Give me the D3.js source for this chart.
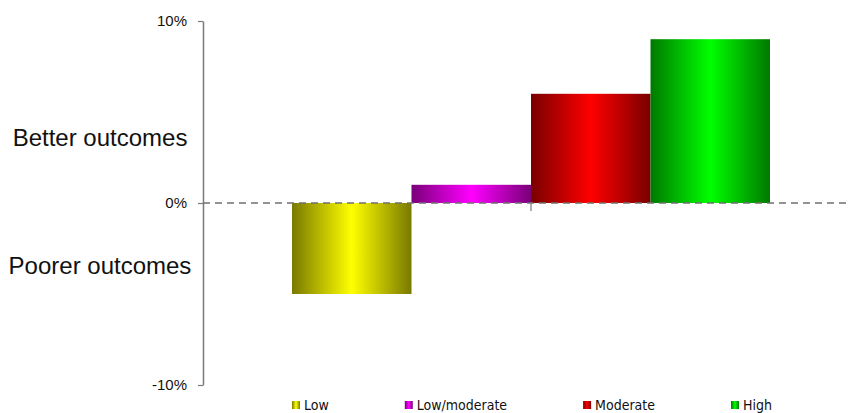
<!DOCTYPE html>
<html>
<head>
<meta charset="utf-8">
<script src="https://cdn.jsdelivr.net/npm/d3@7"></script>
<style>
  html, body { margin: 0; padding: 0; background: #fff; }
  svg { display: block; }
</style>
</head>
<body>
<svg id="chart" width="850" height="413"></svg>
<script>
// Change in outcomes by level (percent)
const categories = ["Low", "Low/moderate", "Moderate", "High"];
const values = [-5, 1, 6, 9];
const yTicks = [-10, 0, 10];
const barColors = ["#ffff00", "#ff00ff", "#ff0000", "#00ff00"];
const sideLabels = ["Better outcomes", "Poorer outcomes"];

const svg = d3.select("#chart");
const axisX = 203;

const y = d3.scaleLinear().domain([-10, 10]).range([385, 21]);
const x = d3.scaleBand().domain(categories).range([292, 770]).padding(0);
const color = d3.scaleOrdinal().domain(categories).range(barColors);

// Horizontal gradients: dark edges, bright centre
const defs = svg.append("defs");
categories.forEach((c, i) => {
  const base = d3.color(color(c));
  const dark = base.darker(2.1);
  const g = defs.append("linearGradient")
    .attr("id", "grad" + i)
    .attr("x1", "0%").attr("x2", "100%").attr("y1", "0%").attr("y2", "0%");
  g.append("stop").attr("offset", "0%").attr("stop-color", dark.formatHex());
  g.append("stop").attr("offset", "50%").attr("stop-color", base.formatHex());
  g.append("stop").attr("offset", "100%").attr("stop-color", dark.formatHex());
});

// Bars
svg.append("g").selectAll("rect")
  .data(categories)
  .join("rect")
  .attr("x", d => x(d))
  .attr("width", x.bandwidth())
  .attr("y", (d, i) => y(Math.max(0, values[i])))
  .attr("height", (d, i) => Math.abs(y(values[i]) - y(0)))
  .attr("fill", (d, i) => `url(#grad${i})`);

// Y axis
const yAxis = svg.append("g")
  .attr("transform", `translate(${axisX},0)`)
  .call(d3.axisLeft(y).tickValues(yTicks).tickSize(5).tickSizeOuter(0)
    .tickFormat(d => d + "%"));
yAxis.select(".domain").attr("stroke", "#7a7a7a").attr("stroke-width", 1.5);
yAxis.selectAll(".tick line").attr("stroke", "#7a7a7a").attr("stroke-width", 1.2);
yAxis.selectAll(".tick text")
  .attr("x", -16)
  .attr("fill", "#111")
  .style("font-family", "'Liberation Sans', Arial, sans-serif")
  .style("font-size", "15px");

// Dashed zero baseline
svg.append("line")
  .attr("x1", axisX).attr("x2", 850)
  .attr("y1", y(0)).attr("y2", y(0))
  .attr("stroke", "#707070")
  .attr("stroke-width", 1.5)
  .attr("stroke-dasharray", "7,5");

// Category tick on the baseline
const midX = (x.range()[0] + x.range()[1]) / 2;
svg.append("line")
  .attr("x1", midX).attr("x2", midX)
  .attr("y1", y(0) - 1).attr("y2", y(0) + 8)
  .attr("stroke", "#7a7a7a")
  .attr("stroke-width", 1.2);

// Side labels
svg.append("g").selectAll("text")
  .data(sideLabels)
  .join("text")
  .attr("x", 100)
  .attr("y", (d, i) => i === 0 ? 146 : 274)
  .attr("text-anchor", "middle")
  .attr("fill", "#111")
  .style("font-family", "'Liberation Sans', Arial, sans-serif")
  .style("font-size", "24px")
  .text(d => d);

// Legend
const legend = svg.append("g");
let lx = 292;
categories.forEach((c, i) => {
  legend.append("rect")
    .attr("x", lx).attr("y", 401)
    .attr("width", 8).attr("height", 8)
    .attr("fill", `url(#grad${i})`);
  const t = legend.append("text")
    .attr("x", lx + 12).attr("y", 410)
    .attr("fill", "#111")
    .style("font-family", "'DejaVu Sans Condensed', 'DejaVu Sans', sans-serif")
    .style("font-stretch", "condensed")
    .style("font-size", "14px")
    .text(c);
  lx += 12 + t.node().getComputedTextLength() + 76;
});
</script>
</body>
</html>
